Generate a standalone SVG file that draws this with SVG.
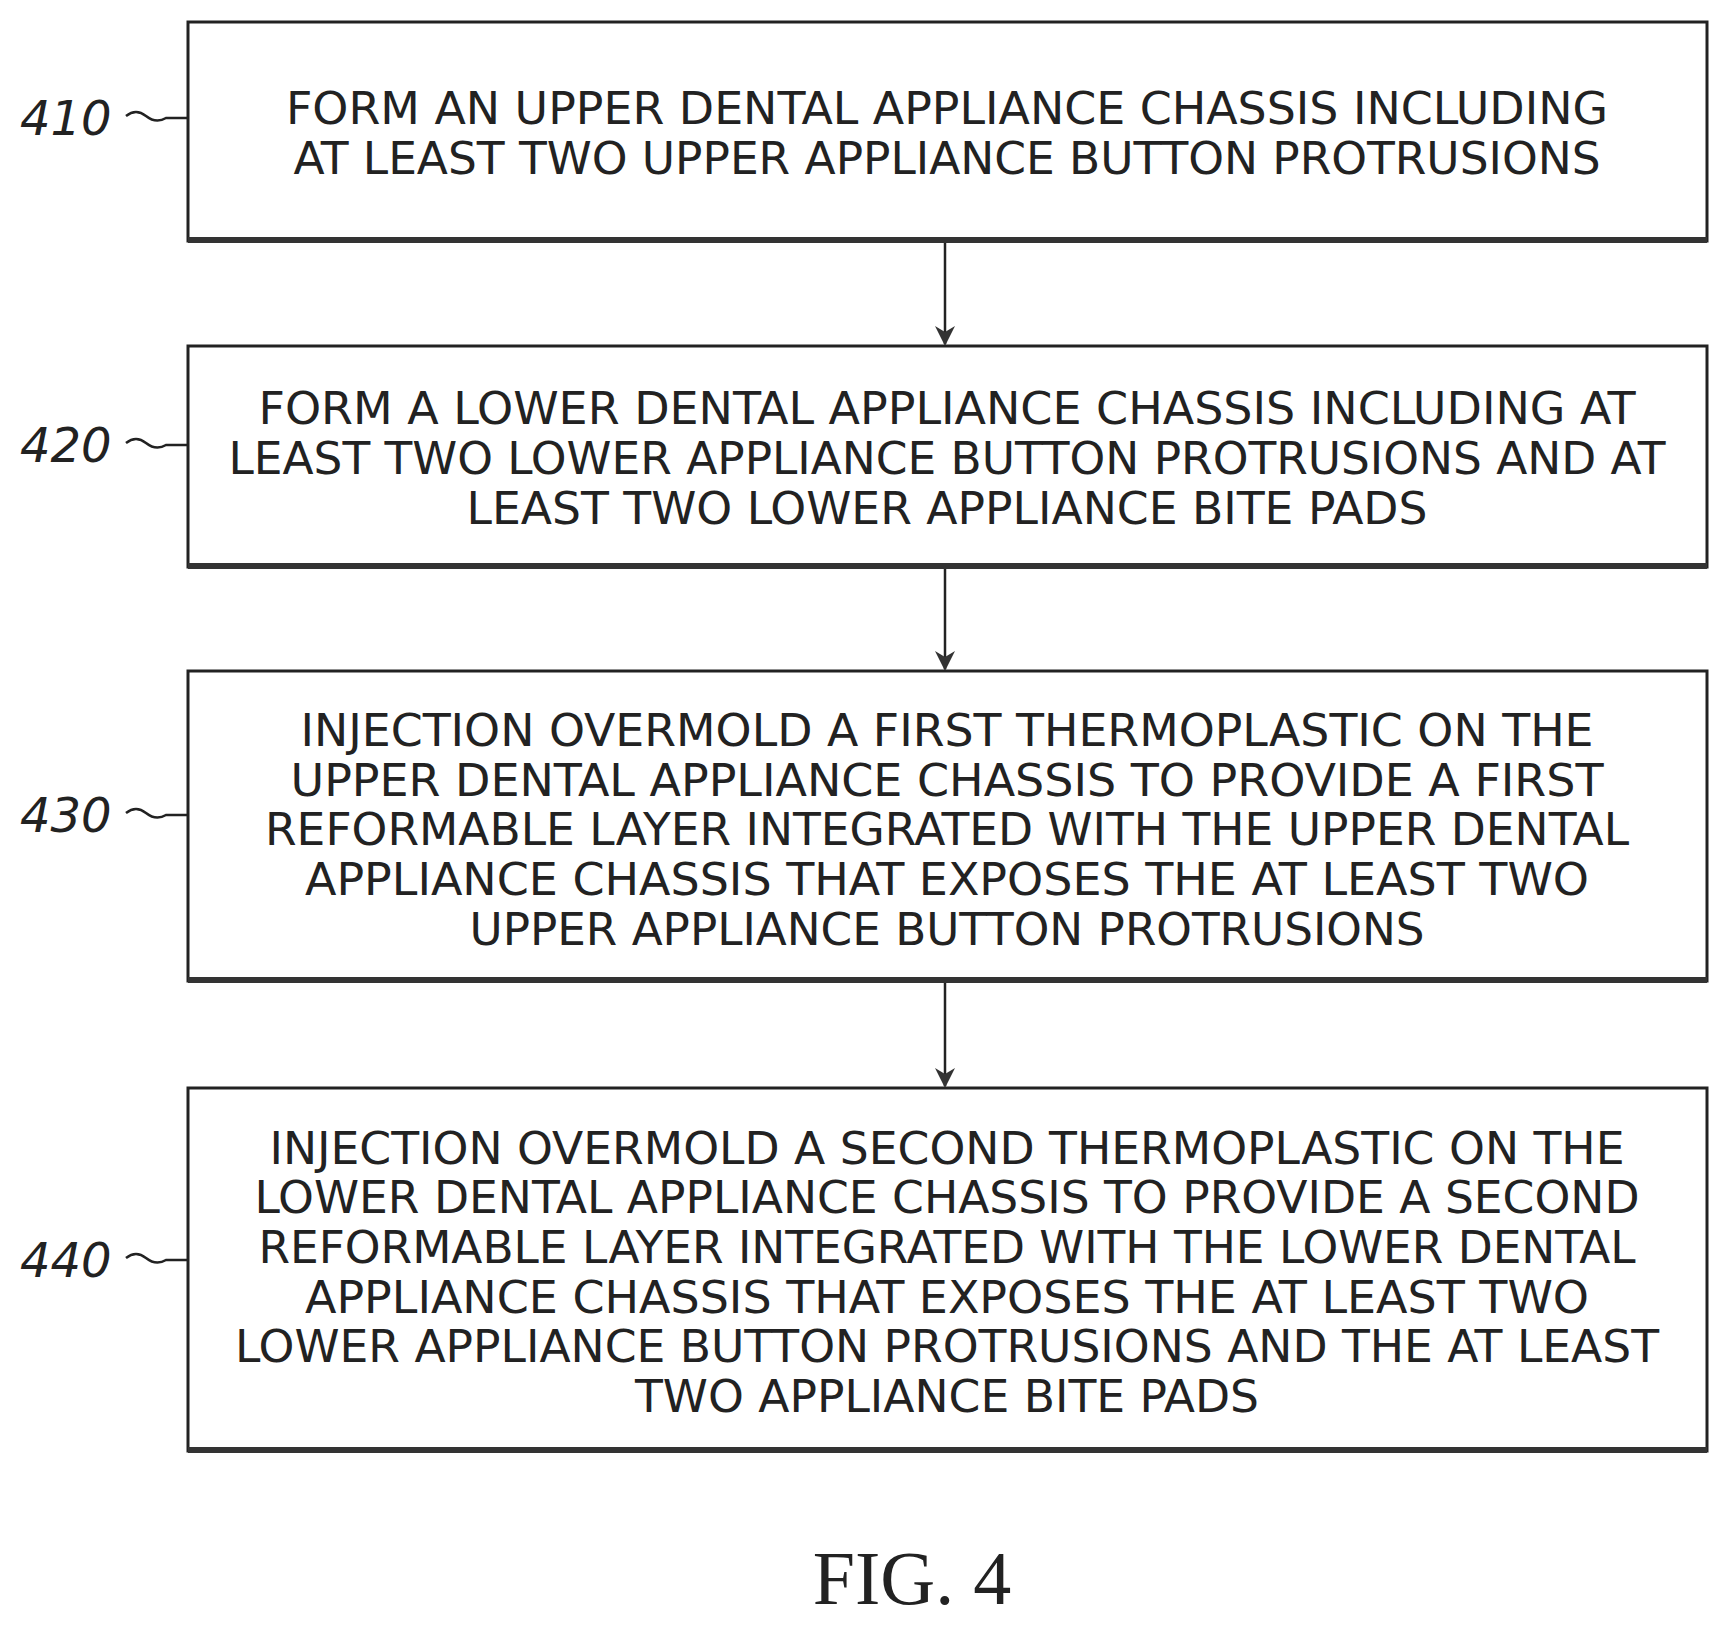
<svg xmlns="http://www.w3.org/2000/svg" width="1723" height="1631" viewBox="0 0 1723 1631">
<defs>
<style>
.box{fill:#fff;stroke:#222;stroke-width:3}
.sh{fill:none;stroke:#333;stroke-width:6}
.t{font-family:"DejaVu Sans Condensed","DejaVu Sans",sans-serif;font-size:44px;fill:#222;text-anchor:middle}
.lb{font-family:"DejaVu Sans","Liberation Sans",sans-serif;font-style:italic;font-size:48px;fill:#222}
.c{fill:none;stroke:#222;stroke-width:2.5}
</style>
<marker id="ah" markerWidth="20" markerHeight="24" refX="18" refY="10" orient="auto" markerUnits="userSpaceOnUse" viewBox="0 0 20 20"><path d="M0,0 L20,10 L0,20 L6,10 Z" fill="#333"/></marker>
</defs>
<rect width="1723" height="1631" fill="#fff"/>
<g id="connectors">
<line class="c" x1="945" y1="243" x2="945" y2="344" marker-end="url(#ah)"/>
<line class="c" x1="945" y1="569" x2="945" y2="669" marker-end="url(#ah)"/>
<line class="c" x1="945" y1="983" x2="945" y2="1086" marker-end="url(#ah)"/>
<path class="c" d="M126,116 q10,-8 20,0 t20,2 l22,0"/>
<path class="c" d="M126,443 q10,-8 20,0 t20,2 l22,0"/>
<path class="c" d="M126,813 q10,-8 20,0 t20,2 l22,0"/>
<path class="c" d="M126,1258 q10,-8 20,0 t20,2 l22,0"/>
</g>
<g id="n410">
<rect class="box" x="188" y="22" width="1519" height="219"/>
<line class="sh" x1="188" y1="240" x2="1707" y2="240"/>
<text class="t" x="947" y="124" textLength="1322" lengthAdjust="spacingAndGlyphs">FORM AN UPPER DENTAL APPLIANCE CHASSIS INCLUDING</text>
<text class="t" x="947" y="174" textLength="1307" lengthAdjust="spacingAndGlyphs">AT LEAST TWO UPPER APPLIANCE BUTTON PROTRUSIONS</text>
<text class="lb" x="20" y="135">410</text>
</g>
<g id="n420">
<rect class="box" x="188" y="346" width="1519" height="221"/>
<line class="sh" x1="188" y1="566" x2="1707" y2="566"/>
<text class="t" x="947" y="424" textLength="1377" lengthAdjust="spacingAndGlyphs">FORM A LOWER DENTAL APPLIANCE CHASSIS INCLUDING AT</text>
<text class="t" x="947" y="474" textLength="1437" lengthAdjust="spacingAndGlyphs">LEAST TWO LOWER APPLIANCE BUTTON PROTRUSIONS AND AT</text>
<text class="t" x="947" y="524" textLength="961" lengthAdjust="spacingAndGlyphs">LEAST TWO LOWER APPLIANCE BITE PADS</text>
<text class="lb" x="20" y="462">420</text>
</g>
<g id="n430">
<rect class="box" x="188" y="671" width="1519" height="310"/>
<line class="sh" x1="188" y1="980" x2="1707" y2="980"/>
<text class="t" x="947" y="746" textLength="1293" lengthAdjust="spacingAndGlyphs">INJECTION OVERMOLD A FIRST THERMOPLASTIC ON THE</text>
<text class="t" x="947" y="796" textLength="1313" lengthAdjust="spacingAndGlyphs">UPPER DENTAL APPLIANCE CHASSIS TO PROVIDE A FIRST</text>
<text class="t" x="947" y="845" textLength="1364" lengthAdjust="spacingAndGlyphs">REFORMABLE LAYER INTEGRATED WITH THE UPPER DENTAL</text>
<text class="t" x="947" y="895" textLength="1284" lengthAdjust="spacingAndGlyphs">APPLIANCE CHASSIS THAT EXPOSES THE AT LEAST TWO</text>
<text class="t" x="947" y="945" textLength="955" lengthAdjust="spacingAndGlyphs">UPPER APPLIANCE BUTTON PROTRUSIONS</text>
<text class="lb" x="20" y="832">430</text>
</g>
<g id="n440">
<rect class="box" x="188" y="1088" width="1519" height="363"/>
<line class="sh" x1="188" y1="1450" x2="1707" y2="1450"/>
<text class="t" x="947" y="1164" textLength="1355" lengthAdjust="spacingAndGlyphs">INJECTION OVERMOLD A SECOND THERMOPLASTIC ON THE</text>
<text class="t" x="947" y="1213" textLength="1385" lengthAdjust="spacingAndGlyphs">LOWER DENTAL APPLIANCE CHASSIS TO PROVIDE A SECOND</text>
<text class="t" x="947" y="1263" textLength="1377" lengthAdjust="spacingAndGlyphs">REFORMABLE LAYER INTEGRATED WITH THE LOWER DENTAL</text>
<text class="t" x="947" y="1313" textLength="1284" lengthAdjust="spacingAndGlyphs">APPLIANCE CHASSIS THAT EXPOSES THE AT LEAST TWO</text>
<text class="t" x="947" y="1362" textLength="1424" lengthAdjust="spacingAndGlyphs">LOWER APPLIANCE BUTTON PROTRUSIONS AND THE AT LEAST</text>
<text class="t" x="947" y="1412" textLength="624" lengthAdjust="spacingAndGlyphs">TWO APPLIANCE BITE PADS</text>
<text class="lb" x="20" y="1277">440</text>
</g>
<text x="912" y="1604" font-family="Liberation Serif, serif" font-size="76" text-anchor="middle" fill="#222">FIG. 4</text>
</svg>
